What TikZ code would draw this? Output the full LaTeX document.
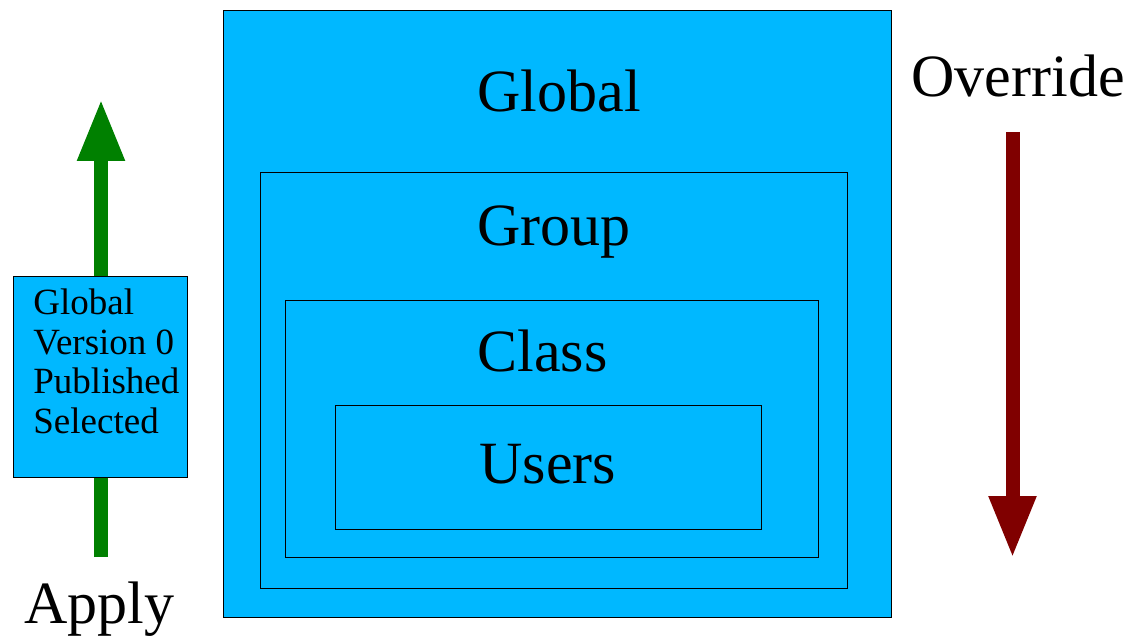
\documentclass[tikz,border=0pt]{standalone}
\usepackage{fontspec}
\setmainfont{Liberation Serif}
\usetikzlibrary{arrows.meta}
\definecolor{skyblue}{RGB}{0,184,255}
\definecolor{applygreen}{RGB}{0,128,0}
\definecolor{overred}{RGB}{128,0,0}
\begin{document}
\begin{tikzpicture}[x=0.5pt,y=-0.5pt,
		layer/.style={draw,fill=skyblue,line width=0.5pt,anchor=north west,inner sep=0pt},
		big/.style={font=\fontsize{30}{36}\selectfont,anchor=base west,inner sep=0pt},
		small/.style={font=\fontsize{18.5}{19.7}\selectfont,anchor=base west,inner sep=0pt,align=left},
		flow/.style={line width=7pt,-{Triangle[length=31pt,width=22pt]}}]
		\useasboundingbox (0,0) rectangle (1134,636);
		% apply arrow goes under the small box
		\coordinate (applyfoot) at (101,557);
		\coordinate (applytip) at (101,99);
		\draw[flow,applygreen] (applyfoot) -- (applytip);
		\node[layer,minimum width=87pt,minimum height=100.5pt](ver) at (13,276){};
		\node[small](vertext) at (33,433){Global\\Version 0\\Published\\Selected};
		\node[big](apply) at (24,623){Apply};
		% nested layers
		\node[layer,minimum width=334pt,minimum height=303.5pt](global) at (223,10){};
		\node[layer,minimum width=293.5pt,minimum height=208pt](group) at (260,172){};
		\node[layer,minimum width=266.5pt,minimum height=128.5pt](class) at (285,300){};
		\node[layer,minimum width=213pt,minimum height=62pt](users) at (335,405){};
		\node[big](globaltext) at (477,112){Global};
		\node[big](grouptext) at (477,246){Group};
		\node[big](classtext) at (477,371){Class};
		\node[big](userstext) at (479,483){Users};
		% override arrow
		\node[big](override) at (911,97){Override};
		\coordinate (overtop) at (1012.5,132);
		\coordinate (overtip) at (1012.5,558);
		\draw[flow,overred] (overtop) -- (overtip);
	\end{tikzpicture}
\end{document}
